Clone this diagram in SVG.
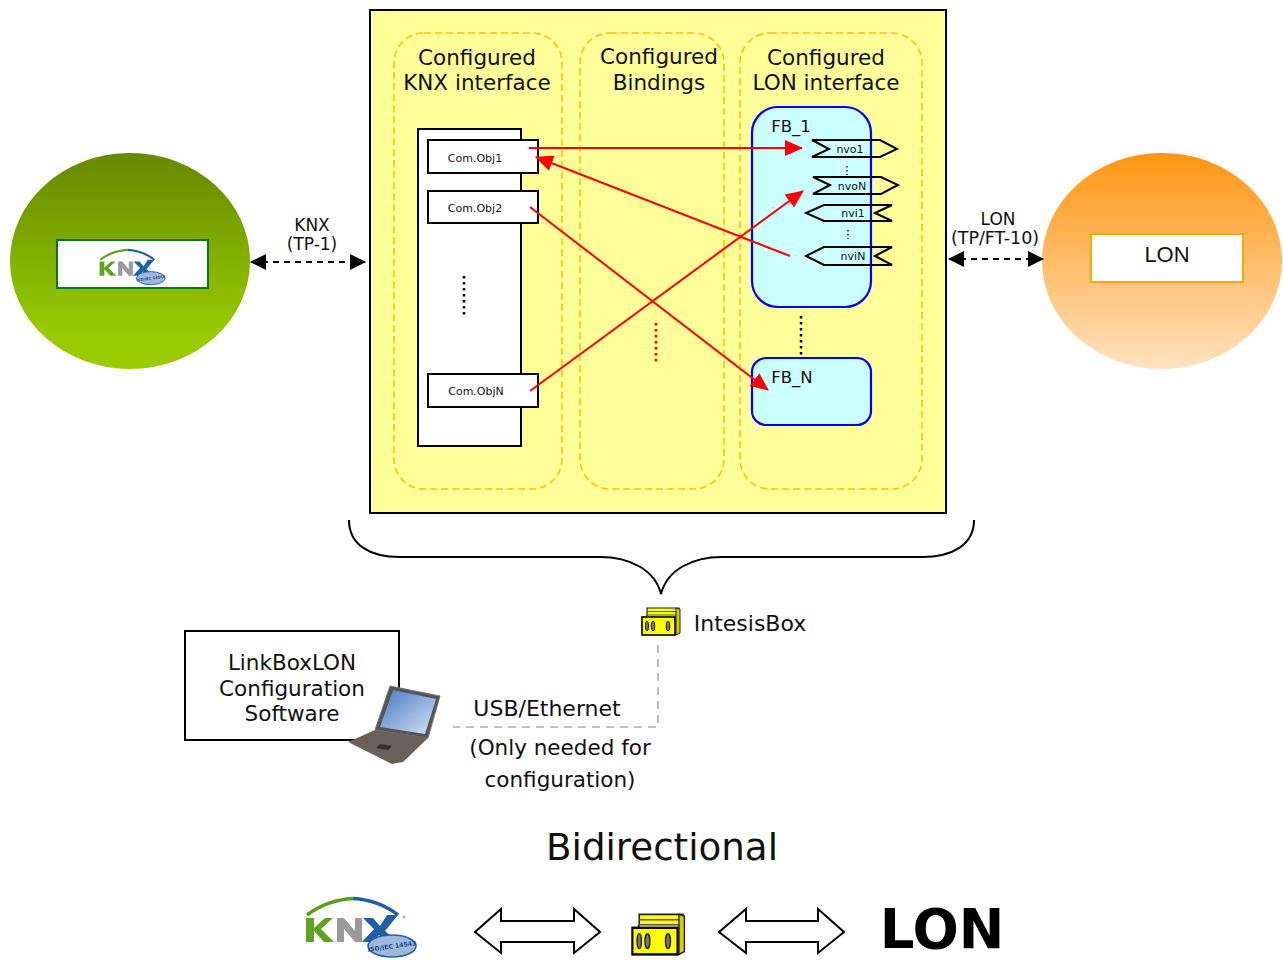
<svg xmlns="http://www.w3.org/2000/svg" xmlns:xlink="http://www.w3.org/1999/xlink" width="1283" height="960" viewBox="0 0 1283 960">
<style>
text{font-family:"DejaVu Sans",Verdana,sans-serif;fill:#111;text-anchor:middle}
.t22{font-size:21.5px}.t22b{font-size:22px}.t16{font-size:16.5px}.t17{font-size:17px}.t11{font-size:11px}
.zone{fill:none;stroke:#ffc000;stroke-width:1.6;stroke-dasharray:7 4}
.fb{fill:#ccffff;stroke:#0000ff;stroke-width:2.2}
.box{fill:#fff;stroke:#000;stroke-width:2}
.port{fill:none;stroke:#000;stroke-width:2}
.red{stroke:#ff0000;stroke-width:2;fill:none}
.dots{stroke:#000;stroke-width:2.5;stroke-dasharray:2.5 3.5;fill:none}
.link{stroke:#000;stroke-width:2;stroke-dasharray:6 5;fill:none}
.usb{stroke:#bfbfbf;stroke-width:2;stroke-dasharray:8 6;fill:none}
.big{fill:#fff;stroke:#000;stroke-width:2}
</style>
<defs>
<linearGradient id="gk" x1="0" y1="0" x2="0" y2="1"><stop offset="0" stop-color="#668800"/><stop offset="0.85" stop-color="#99cc00"/><stop offset="1" stop-color="#99cc00"/></linearGradient>
<linearGradient id="gl" x1="0" y1="0" x2="0" y2="1"><stop offset="0" stop-color="#ff9612"/><stop offset="1" stop-color="#ffe2bf"/></linearGradient>
<linearGradient id="scr" x1="0" y1="0" x2="1" y2="1"><stop offset="0" stop-color="#4a78c4"/><stop offset="1" stop-color="#d2e2f6"/></linearGradient>
<marker id="ar" viewBox="0 0 18 18" refX="17" refY="9" markerWidth="18" markerHeight="18" markerUnits="userSpaceOnUse" orient="auto"><path d="M0 1L18 9L0 17Z" fill="#ff0000"/></marker>
<marker id="bk" viewBox="0 0 16 16" refX="15" refY="8" markerWidth="16" markerHeight="16" markerUnits="userSpaceOnUse" orient="auto-start-reverse"><path d="M0 0L16 8L0 16Z" fill="#000"/></marker>
<g id="device">
<path d="M6 1H38V26H4V12L6 8Z" fill="#ffff00" stroke="#222" stroke-width="1.2"/>
<path d="M6 4.5H37M6 8H37" stroke="#555" stroke-width="1" fill="none"/>
<path d="M35 1L39 2V26L35 28Z" fill="#d8cc00" stroke="#222" stroke-width="1"/>
<rect x="1" y="10" width="33" height="18" fill="#ffff00" stroke="#000" stroke-width="1.6"/>
<g fill="#777" stroke="#222" stroke-width="1"><ellipse cx="6" cy="19" rx="1.6" ry="5"/><ellipse cx="12" cy="19" rx="1.8" ry="5"/><ellipse cx="27" cy="19" rx="1.8" ry="5"/></g>
</g>
<g id="knxlogo">
<path d="M307 915Q327 900 353 898.5" fill="none" stroke="#5a9e1c" stroke-width="3.5"/>
<path d="M353 898.5Q379 900 398 915" fill="none" stroke="#1f5fa8" stroke-width="3.5"/>
<path d="M306 918h8v10l11-10h8l-12 11 13 13h-10l-10-11v11h-8z" fill="#5fa31e"/>
<path d="M337 918h7l11 13v-13h7v24h-7l-11-13v13h-7z" fill="#9a9a9a"/>
<path d="M363 918h10l7 8 7-11h11l-13 16 13 11h-12l-7-7-7 7h-10l12-13z" fill="#1f5fa8"/>
<ellipse cx="392" cy="946" rx="24" ry="11" fill="#9db8dc" stroke="#2a5ca8" stroke-width="1.5"/>
<text x="392" y="948.5" transform="rotate(-8 392 946)" style="font-size:6.2px;font-weight:bold;fill:#234a8c">ISO/IEC 14543</text>
<circle cx="404" cy="917" r="1.5" fill="#9db8dc"/>
</g>
</defs>

<g id="knx-node">
<ellipse cx="130" cy="261" rx="120" ry="108" fill="url(#gk)"/>
<rect x="57" y="240" width="151" height="48" fill="#fff" stroke="#007a20" stroke-width="2"/>
<use href="#knxlogo" xlink:href="#knxlogo" transform="translate(99 249) scale(0.595) translate(-305 -897)"/>
</g>

<g id="lon-node">
<ellipse cx="1162" cy="261" rx="120" ry="108" fill="url(#gl)"/>
<rect x="1091" y="234" width="152" height="48" fill="#fff" stroke="#ffa500" stroke-width="2"/>
<text x="1167" y="262" style="font-size:22px;font-family:'Liberation Sans',Arial,sans-serif">LON</text>
</g>

<g id="gateway">
<rect x="370" y="10" width="576" height="503" fill="#ffff99" stroke="#000" stroke-width="2"/>
</g>

<g id="zone-knx">
<rect class="zone" x="394" y="33" width="168" height="456" rx="30"/>
<text class="t22" x="477" y="65">Configured</text>
<text class="t22" x="477" y="90">KNX interface</text>
</g>
<g id="zone-bindings">
<rect class="zone" x="580" y="33" width="144" height="456" rx="30"/>
<text class="t22" x="659" y="64">Configured</text>
<text class="t22" x="659" y="90">Bindings</text>
</g>
<g id="zone-lon">
<rect class="zone" x="740" y="33" width="182" height="456" rx="30"/>
<text class="t22" x="826" y="65">Configured</text>
<text class="t22" x="826" y="90">LON interface</text>
</g>

<g id="comobj-panel">
<rect class="box" x="418" y="129" width="103" height="317"/>
<path class="dots" d="M464 276V316"/>
</g>
<g id="comobj1"><rect class="box" x="428" y="140" width="110" height="33"/><text class="t11" x="475" y="162">Com.Obj1</text></g>
<g id="comobj2"><rect class="box" x="428" y="191" width="110" height="32"/><text class="t11" x="475" y="212">Com.Obj2</text></g>
<g id="comobjN"><rect class="box" x="428" y="374" width="110" height="33"/><text class="t11" x="476" y="395">Com.ObjN</text></g>

<g id="fb1">
<rect class="fb" x="752" y="107" width="119" height="200" rx="26"/>
<text class="t16" x="791" y="132">FB_1</text>
</g>
<g id="fbN">
<rect class="fb" x="752" y="358" width="119" height="67" rx="14"/>
<text class="t16" x="792" y="383">FB_N</text>
</g>
<g id="nvo1"><path class="port" d="M812 140H880L897 149L880 157H812L829 149Z"/><text class="t11" x="850" y="153">nvo1</text></g>
<g id="nvoN"><path class="port" d="M813 177H881L898 185L881 194H813L830 185Z"/><text class="t11" x="852" y="190">nvoN</text></g>
<g id="nvi1"><path class="port" d="M892 205H824L806 213L824 221H892L875 213Z"/><text class="t11" x="853" y="217">nvi1</text></g>
<g id="nviN"><path class="port" d="M892 247H824L806 256L824 265H892L875 256Z"/><text class="t11" x="853" y="260">nviN</text></g>
<path class="dots" style="stroke-width:1.3;stroke-dasharray:1.5 2.5" d="M847 166V175M848 230V239"/>
<path class="dots" d="M801 316V355"/>
<path class="dots" style="stroke:#ff0000" d="M656 323V363"/>

<g id="connectors">
<path class="red" marker-end="url(#ar)" d="M529 148H802"/>
<path class="red" marker-end="url(#ar)" d="M790 256L536 157"/>
<path class="red" marker-end="url(#ar)" d="M530 207L768 390"/>
<path class="red" marker-end="url(#ar)" d="M530 391L803 191"/>
<path class="link" marker-start="url(#bk)" marker-end="url(#bk)" d="M251 262H365"/>
<path class="link" marker-start="url(#bk)" marker-end="url(#bk)" d="M949 259H1043"/>
<path class="usb" d="M658 645V727H453"/>
</g>
<text class="t17" x="312" y="231">KNX</text>
<text class="t17" x="312" y="250">(TP-1)</text>
<text class="t17" x="998" y="225">LON</text>
<text class="t17" style="font-size:17.5px" x="995" y="244">(TP/FT-10)</text>

<g id="brace"><path d="M349 520C349 545 370 557 400 557H600C630 557 655 570 661 594C667 570 692 557 722 557H922C952 557 974 545 974 520" fill="none" stroke="#000" stroke-width="2"/></g>

<g id="intesisbox">
<use href="#device" xlink:href="#device" x="641" y="607"/>
<text class="t22b" x="750" y="631">IntesisBox</text>
</g>

<g id="software">
<rect x="185" y="631" width="214" height="109" fill="#fff" stroke="#000" stroke-width="2"/>
<text class="t22" x="292" y="670">LinkBoxLON</text>
<text class="t22" x="292" y="696">Configuration</text>
<text class="t22" x="292" y="721">Software</text>
</g>
<g id="laptop">
<path d="M390 686L440 696L428 738L375 730Z" fill="#555" stroke="#777"/>
<path d="M393 690L436 699L425 734L380 727Z" fill="url(#scr)"/>
<path d="M375 730L428 738L403 762L392 764L348 742Z" fill="#6a5f5a"/>
<path d="M380 744L392 746L388 750L376 748Z" fill="#3a302c"/>
</g>

<text class="t22b" x="547" y="716">USB/Ethernet</text>
<text class="t22" x="560" y="755">(Only needed for</text>
<text class="t22" x="560" y="787">configuration)</text>

<text x="662" y="860" style="font-size:37.2px">Bidirectional</text>

<g id="knx-logo-large"><use href="#knxlogo" xlink:href="#knxlogo"/></g>
<path class="big" id="arrow-a" d="M475 932L501 909V921H574V909L600 932L574 953V942H501V953Z"/>
<g id="device-large"><use href="#device" xlink:href="#device" transform="translate(631 913) scale(1.37 1.48)"/></g>
<path class="big" id="arrow-b" d="M719 932L746 909V921H818V909L844 932L818 953V942H746V953Z"/>
<text x="942" y="948" style="font-size:54.5px;font-weight:bold;fill:#000">LON</text>
</svg>
